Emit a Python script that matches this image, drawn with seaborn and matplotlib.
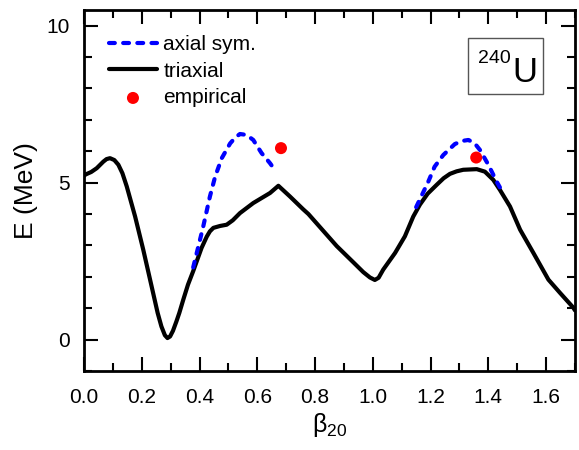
"""
Surface d'énergie potentielle 240U : axial vs triaxial
"""
import numpy as np
import pandas as pd
import matplotlib
matplotlib.use("Agg")
import matplotlib.pyplot as plt
import matplotlib.patches as mpatches
from matplotlib.ticker import MultipleLocator, FormatStrFormatter
import seaborn as sns

# ── Données ──────────────────────────────────────────────────────────────────
beta_tri = [0.0, 0.003, 0.025, 0.044, 0.067, 0.078, 0.09, 0.105, 0.119, 0.133,
            0.148, 0.177, 0.205, 0.234, 0.255, 0.268, 0.280, 0.289, 0.298, 0.308,
            0.32, 0.33, 0.344, 0.36, 0.378, 0.407, 0.425, 0.436, 0.448, 0.471,
            0.494, 0.515, 0.540, 0.586, 0.644, 0.673, 0.713, 0.759, 0.777, 0.875,
            0.935, 0.967, 0.99, 1.007, 1.02, 1.036, 1.077, 1.111, 1.140, 1.163,
            1.19, 1.221, 1.245, 1.267, 1.29, 1.313, 1.360, 1.388, 1.417, 1.440,
            1.475, 1.510, 1.556, 1.608, 1.648, 1.694, 1.70]
E_tri = [5.21, 5.25, 5.34, 5.46, 5.67, 5.75, 5.78, 5.72, 5.57, 5.30,
         4.88, 3.92, 2.87, 1.70, 0.85, 0.42, 0.14, 0.05, 0.10, 0.28,
         0.58, 0.85, 1.28, 1.75, 2.18, 2.92, 3.28, 3.45, 3.56, 3.62,
         3.66, 3.80, 4.03, 4.35, 4.67, 4.90, 4.56, 4.15, 4.00, 2.98,
         2.44, 2.15, 1.98, 1.90, 1.97, 2.23, 2.76, 3.29, 3.92, 4.30,
         4.65, 4.93, 5.14, 5.28, 5.36, 5.41, 5.43, 5.35, 5.09, 4.77,
         4.24, 3.50, 2.76, 1.91, 1.49, 1.02, 0.93]

beta_ax1 = [0.378, 0.396, 0.413, 0.436, 0.454, 0.477, 0.506, 0.525, 0.540, 0.563,
            0.586, 0.615, 0.644, 0.665]
E_ax1 = [2.30, 2.97, 3.61, 4.56, 5.19, 5.78, 6.25, 6.45, 6.55, 6.52,
         6.36, 5.94, 5.62, 5.35]

beta_ax2 = [1.150, 1.192, 1.214, 1.244, 1.284, 1.310, 1.331, 1.352, 1.371, 1.400,
            1.429, 1.440]
E_ax2 = [4.22, 5.03, 5.51, 5.88, 6.23, 6.33, 6.36, 6.26, 6.04, 5.57,
         5.03, 4.85]

beta_emp = [0.682, 1.358]
E_emp = [6.10, 5.80]

# ── Style ────────────────────────────────────────────────────────────────────
sns.set_style("ticks")
plt.rcParams["font.family"] = ["Liberation Sans", "DejaVu Sans"]
plt.rcParams["mathtext.fontset"] = "custom"
plt.rcParams["mathtext.rm"] = "Liberation Sans"
plt.rcParams["mathtext.it"] = "Liberation Sans"
plt.rcParams["mathtext.default"] = "regular"
for k in ["text.color", "axes.labelcolor", "xtick.color", "ytick.color",
          "axes.edgecolor"]:
    plt.rcParams[k] = "black"

fig = plt.figure(figsize=(5.79, 4.5), dpi=100)
ax = fig.add_axes([84 / 579, 79 / 450, 491 / 579, 361 / 450])

sns.lineplot(x=beta_tri, y=E_tri, ax=ax, color="black", lw=3,
             sort=False, estimator=None, label="triaxial")
sns.lineplot(x=beta_ax1, y=E_ax1, ax=ax, color="#0000ff", lw=3,
             sort=False, estimator=None, label="axial sym.")
sns.lineplot(x=beta_ax2, y=E_ax2, ax=ax, color="#0000ff", lw=3,
             sort=False, estimator=None)
sns.scatterplot(x=beta_emp, y=E_emp, ax=ax, color="red", s=75,
                edgecolor="none", label="empirical", zorder=5)

for ln in ax.lines:
    ln.set_solid_joinstyle("round")
    ln.set_solid_capstyle("round")
for ln in ax.lines[1:3]:
    ln.set_dashes((1.4, 2.0))
    ln.set_dash_capstyle("round")

h, l = ax.get_legend_handles_labels()
order = [l.index("axial sym."), l.index("triaxial"), l.index("empirical")]
ax.legend([h[i] for i in order], [l[i] for i in order], loc="upper left",
          bbox_to_anchor=(0.0, 1.0), frameon=False, fontsize=15,
          handlelength=2.3, handletextpad=0.3, labelspacing=0.37,
          borderaxespad=0.8)

# encadré 240U
ax.add_patch(mpatches.Rectangle((0.782, 0.767), 0.153, 0.155,
                                transform=ax.transAxes, fc="white",
                                ec="#555555", lw=1, zorder=6))
ax.text(0.8697, 0.853, "240", transform=ax.transAxes, fontsize=14,
        ha="right", va="baseline", zorder=7)
ax.text(0.872, 0.8006, "U", transform=ax.transAxes, fontsize=25,
        ha="left", va="baseline", zorder=7)

ax.set_xlim(0, 1.7)
ax.set_ylim(-1, 10.5)
ax.xaxis.set_major_locator(MultipleLocator(0.2))
ax.xaxis.set_minor_locator(MultipleLocator(0.1))
ax.yaxis.set_major_locator(MultipleLocator(5))
ax.yaxis.set_minor_locator(MultipleLocator(1))
ax.xaxis.set_major_formatter(FormatStrFormatter("%.1f"))
ax.tick_params(which="both", direction="in", top=True, right=True,
               width=1.5, labelsize=15)
ax.tick_params(which="major", length=10)
ax.tick_params(which="minor", length=5.5)
ax.tick_params(axis="x", pad=12)
ax.tick_params(axis="y", pad=10)
for sp in ax.spines.values():
    sp.set_linewidth(2)
    sp.set_visible(True)

ax.set_xlabel(r"$\beta_{20}$", fontsize=18, labelpad=3)
ax.set_ylabel("E (MeV)", fontsize=19, labelpad=6)

fig.savefig("out.png", dpi=100)
plt.close()
